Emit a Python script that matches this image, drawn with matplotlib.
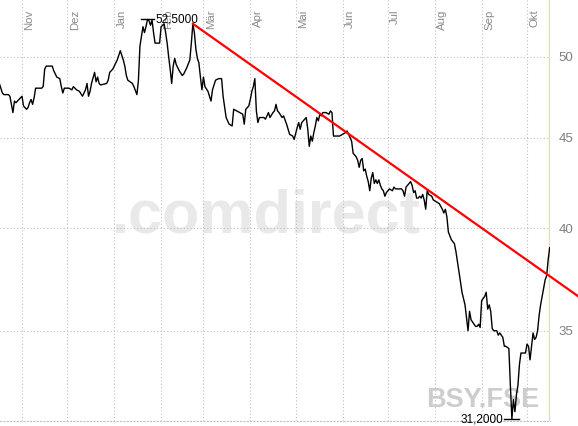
# Chart tools
import numpy as np
import pandas as pd
import matplotlib
matplotlib.use('Agg')
import matplotlib.pyplot as plt
import matplotlib.dates as mdates
from matplotlib.ticker import NullLocator, NullFormatter

plt.rcParams['font.family'] = ['Liberation Sans', 'DejaVu Sans']

# --- Data ---

dates = [
    '2010-10-17', '2010-10-19', '2010-10-20', '2010-10-23', '2010-10-24', '2010-10-26', '2010-10-27',
    '2010-10-28', '2010-10-31', '2010-11-01', '2010-11-02', '2010-11-04', '2010-11-05', '2010-11-06',
    '2010-11-07', '2010-11-08', '2010-11-09', '2010-11-10', '2010-11-14', '2010-11-15', '2010-11-16',
    '2010-11-17', '2010-11-21', '2010-11-22', '2010-11-24', '2010-11-26', '2010-11-27', '2010-11-28',
    '2010-11-29', '2010-12-02', '2010-12-04', '2010-12-05', '2010-12-07', '2010-12-09', '2010-12-11',
    '2010-12-13', '2010-12-14', '2010-12-15', '2010-12-16', '2010-12-17', '2010-12-19', '2010-12-20',
    '2010-12-21', '2010-12-22', '2010-12-23', '2010-12-27', '2010-12-28', '2010-12-29', '2010-12-31',
    '2011-01-03', '2011-01-04', '2011-01-05', '2011-01-07', '2011-01-08', '2011-01-09', '2011-01-10',
    '2011-01-13', '2011-01-14', '2011-01-16', '2011-01-17', '2011-01-18', '2011-01-20', '2011-01-21',
    '2011-01-22', '2011-01-23', '2011-01-24', '2011-01-25', '2011-01-26', '2011-01-27', '2011-01-28',
    '2011-01-31', '2011-02-01', '2011-02-02', '2011-02-03', '2011-02-04', '2011-02-05', '2011-02-06',
    '2011-02-07', '2011-02-08', '2011-02-09', '2011-02-10', '2011-02-11', '2011-02-13', '2011-02-15',
    '2011-02-16', '2011-02-18', '2011-02-20', '2011-02-21', '2011-02-22', '2011-02-23', '2011-02-24',
    '2011-02-25', '2011-02-26', '2011-02-27', '2011-02-28', '2011-03-01', '2011-03-02', '2011-03-04',
    '2011-03-06', '2011-03-07', '2011-03-09', '2011-03-11', '2011-03-13', '2011-03-14', '2011-03-16',
    '2011-03-18', '2011-03-20', '2011-03-21', '2011-03-25', '2011-03-27', '2011-03-28', '2011-03-29',
    '2011-03-31', '2011-04-01', '2011-04-02', '2011-04-03', '2011-04-04', '2011-04-05', '2011-04-06',
    '2011-04-07', '2011-04-10', '2011-04-11', '2011-04-13', '2011-04-14', '2011-04-16', '2011-04-17',
    '2011-04-18', '2011-04-19', '2011-04-20', '2011-04-22', '2011-04-23', '2011-04-25', '2011-04-26',
    '2011-04-27', '2011-04-29', '2011-04-30', '2011-05-02', '2011-05-03', '2011-05-04', '2011-05-05',
    '2011-05-06', '2011-05-08', '2011-05-09', '2011-05-10', '2011-05-11', '2011-05-12', '2011-05-13',
    '2011-05-14', '2011-05-15', '2011-05-16', '2011-05-17', '2011-05-18', '2011-05-19', '2011-05-21',
    '2011-05-23', '2011-05-24', '2011-05-25', '2011-05-26', '2011-05-28', '2011-05-30', '2011-06-01',
    '2011-06-03', '2011-06-04', '2011-06-05', '2011-06-07', '2011-06-08', '2011-06-10', '2011-06-11',
    '2011-06-12', '2011-06-13', '2011-06-14', '2011-06-15', '2011-06-16', '2011-06-17', '2011-06-18',
    '2011-06-19', '2011-06-20', '2011-06-21', '2011-06-22', '2011-06-23', '2011-06-24', '2011-06-25',
    '2011-06-26', '2011-06-27', '2011-06-28', '2011-06-29', '2011-06-30', '2011-07-02', '2011-07-04',
    '2011-07-05', '2011-07-06', '2011-07-08', '2011-07-10', '2011-07-11', '2011-07-12', '2011-07-13',
    '2011-07-15', '2011-07-16', '2011-07-17', '2011-07-18', '2011-07-19', '2011-07-20', '2011-07-21',
    '2011-07-22', '2011-07-23', '2011-07-24', '2011-07-25', '2011-07-26', '2011-07-27', '2011-07-28',
    '2011-07-30', '2011-07-31', '2011-08-02', '2011-08-04', '2011-08-06', '2011-08-07', '2011-08-08',
    '2011-08-09', '2011-08-10', '2011-08-12', '2011-08-14', '2011-08-15', '2011-08-16', '2011-08-17',
    '2011-08-18', '2011-08-19', '2011-08-20', '2011-08-21', '2011-08-22', '2011-08-23', '2011-08-24',
    '2011-08-25', '2011-08-26', '2011-08-28', '2011-08-29', '2011-08-30', '2011-08-31', '2011-09-01',
    '2011-09-02', '2011-09-03', '2011-09-04', '2011-09-05', '2011-09-06', '2011-09-07', '2011-09-08',
    '2011-09-09', '2011-09-11', '2011-09-12', '2011-09-13', '2011-09-14', '2011-09-15', '2011-09-16',
    '2011-09-17', '2011-09-19', '2011-09-20', '2011-09-21', '2011-09-22', '2011-09-23', '2011-09-24',
    '2011-09-25', '2011-09-26', '2011-09-27', '2011-09-28', '2011-09-30', '2011-10-01', '2011-10-02',
    '2011-10-03', '2011-10-04', '2011-10-05', '2011-10-06', '2011-10-07', '2011-10-08', '2011-10-09',
    '2011-10-10', '2011-10-11', '2011-10-12', '2011-10-13', '2011-10-14', '2011-10-15', '2011-10-16',
]

prices = [
    48.3, 47.7, 47.6, 47.6, 47.5, 46.5, 47.2,
    47.1, 47.4, 47.5, 46.9, 46.7, 46.8, 47.1,
    47.3, 47.0, 47.4, 48.0, 48.0, 48.1, 49.2,
    49.4, 49.4, 49.1, 48.7, 48.6, 48.1, 47.7,
    48.0, 48.0, 47.9, 48.1, 47.9, 47.8, 47.5,
    47.9, 48.3, 47.5, 47.8, 48.3, 49.0, 48.4,
    48.7, 48.3, 48.2, 48.3, 48.5, 49.0, 49.2,
    49.8, 50.1, 50.4, 49.8, 49.4, 48.8, 48.5,
    48.3, 48.1, 47.6, 48.5, 50.7, 52.0, 51.6,
    52.0, 52.5, 52.4, 52.1, 52.45, 51.6, 50.9,
    50.9, 52.0, 52.1, 52.2, 51.6, 50.9, 50.0,
    49.2, 48.3, 49.4, 49.9, 49.5, 49.1, 48.8,
    48.9, 49.3, 49.8, 50.9, 52.2, 51.6, 50.5,
    49.9, 49.6, 48.7, 47.9, 48.7, 48.1, 47.8,
    47.2, 47.9, 48.5, 48.6, 48.6, 47.5, 46.2,
    45.8, 45.7, 46.7, 46.5, 46.4, 45.8, 46.7,
    46.9, 47.3, 47.8, 48.1, 48.6, 46.6, 45.9,
    46.2, 46.2, 46.1, 46.5, 46.2, 46.5, 46.6,
    47.0, 46.6, 46.5, 46.2, 46.3, 45.8, 45.5,
    45.2, 45.1, 44.9, 45.6, 45.9, 45.5, 45.9,
    46.0, 46.2, 45.5, 44.5, 45.1, 44.8, 45.3,
    45.7, 46.2, 46.0, 46.4, 46.3, 46.5, 46.5,
    46.4, 46.6, 46.5, 45.1, 45.1, 45.1, 45.2,
    45.3, 45.4, 45.2, 44.8, 44.1, 43.9, 43.7,
    43.3, 43.7, 43.8, 43.1, 43.2, 42.8, 42.5,
    42.0, 42.7, 43.0, 42.4, 42.6, 42.4, 42.6,
    42.3, 42.1, 42.0, 41.7, 41.9, 42.1, 42.0,
    42.2, 42.1, 42.1, 42.1, 42.0, 41.7, 42.2,
    42.4, 42.5, 42.3, 41.9, 42.0, 41.6, 41.6,
    41.7, 41.6, 41.8, 41.5, 41.0, 42.0, 41.8,
    41.7, 41.5, 41.4, 41.3, 41.0, 40.8, 41.0,
    40.6, 39.8, 39.4, 39.2, 38.8, 38.3, 37.8,
    37.3, 36.8, 36.5, 36.2, 35.6, 35.0, 35.9,
    35.5, 35.4, 35.2, 35.2, 35.3, 35.15, 36.4,
    36.5, 36.6, 36.8, 36.0, 36.2, 35.9, 35.1,
    35.0, 35.0, 34.8, 34.9, 34.8, 34.7, 34.3,
    34.3, 34.2, 32.6, 31.2, 32.0, 31.5, 32.2,
    32.6, 33.5, 34.0, 34.0, 34.0, 34.4, 34.3,
    33.7, 34.3, 34.9, 34.6, 34.7, 35.0, 35.7,
    36.2, 36.6, 37.0, 37.4, 37.6, 38.4, 39.0,
]

# Trend line anchors (start at the February high, runs off the right edge)
trend_dates = ['2011-02-22', '2011-11-04']
trend_values = [52.2, 36.6]

# Month gridlines and German labels
month_starts = ['2010-11-01', '2010-12-01', '2011-01-01', '2011-02-01', '2011-03-01', '2011-04-01',
                '2011-05-01', '2011-06-01', '2011-07-01', '2011-08-01', '2011-09-01', '2011-10-01']
month_labels = ['Nov', 'Dez', 'Jan', 'Feb', 'Mär', 'Apr', 'Mai', 'Jun', 'Jul', 'Aug', 'Sep', 'Okt']

y_ticks = [35, 40, 45, 50]

# --- Convert ---

x = mdates.date2num(pd.to_datetime(dates))
y = np.array(prices)
months = mdates.date2num(pd.to_datetime(month_starts))
trend_x = mdates.date2num(pd.to_datetime(trend_dates))

# --- Figure ---

fig = plt.figure(figsize=(5.78, 4.26), dpi=100)
ax = fig.add_axes([0, 5 / 426, 550 / 578, 421 / 426])

# Time axis: 1.512 px per day, Nov 1st at x=22 px
px_day = 1.512
left = months[0] - 22 / px_day
ax.set_xlim(left, left + 550 / px_day)

ax.set_yscale('log')
ax.set_ylim(31.12, 53.84)

# Watermarks
ax.text(0.485, 0.485, '.comdirect', transform=ax.transAxes, ha='center', va='center',
        fontsize=44, fontweight='bold', color='#e9e9e9', zorder=0)
ax.text(0.98, 0.033, 'BSY.FSE', transform=ax.transAxes, ha='right', va='baseline',
        fontsize=19.5, fontweight='bold', color='#cdcdcd', zorder=0)

# Gridlines
ax.set_xticks(months)
ax.set_yticks(y_ticks)
ax.set_yticklabels([str(t) for t in y_ticks])
ax.yaxis.set_minor_locator(NullLocator())
ax.yaxis.set_minor_formatter(NullFormatter())
ax.grid(True, linestyle=(0, (1, 2)), color='#c0c0c0', linewidth=0.8)
ax.set_axisbelow(True)

ax.tick_params(axis='x', length=0, labelbottom=False)
ax.yaxis.tick_right()
ax.tick_params(axis='y', length=0, pad=6, labelsize=9.5, labelcolor='#808080')

for side in ['top', 'left', 'right']:
    ax.spines[side].set_visible(False)
ax.spines['bottom'].set_linestyle((0, (1, 2)))
ax.spines['bottom'].set_color('#c0c0c0')
ax.spines['bottom'].set_linewidth(0.8)

# Month labels, rotated at the top
for m, lab in zip(months, month_labels):
    ax.text(m + 1.6, 0.978, lab, transform=ax.get_xaxis_transform(), rotation=90,
            ha='left', va='top', fontsize=8.2, color='#8a8a8a')

# Last-day marker
ax.axvline(x[-1], color='#f3dc8a', linewidth=2.4, zorder=1)

# Price line
ax.plot(x, y, color='black', linewidth=1.0, zorder=3)

# Trend line
ax.plot(trend_x, trend_values, color='#ff0000', linewidth=1.6, zorder=4, clip_on=False)

# High / low labels
i_max = int(np.argmax(y))
i_min = int(np.argmin(y))
ax.plot([x[i_max] - 4.5, x[i_max] + 4.5], [y[i_max], y[i_max]], color='black', linewidth=1.0)
ax.text(x[i_max] + 5, y[i_max], f'{y[i_max]:.4f}'.replace('.', ','), ha='left', va='center',
        fontsize=8.5, color='black')
ax.plot([x[i_min] - 5, x[i_min] + 5], [y[i_min], y[i_min]], color='black', linewidth=1.0)
ax.text(x[i_min] - 6, y[i_min], f'{y[i_min]:.4f}'.replace('.', ','), ha='right', va='center',
        fontsize=8.5, color='black')

fig.savefig('out.png', dpi=100)
